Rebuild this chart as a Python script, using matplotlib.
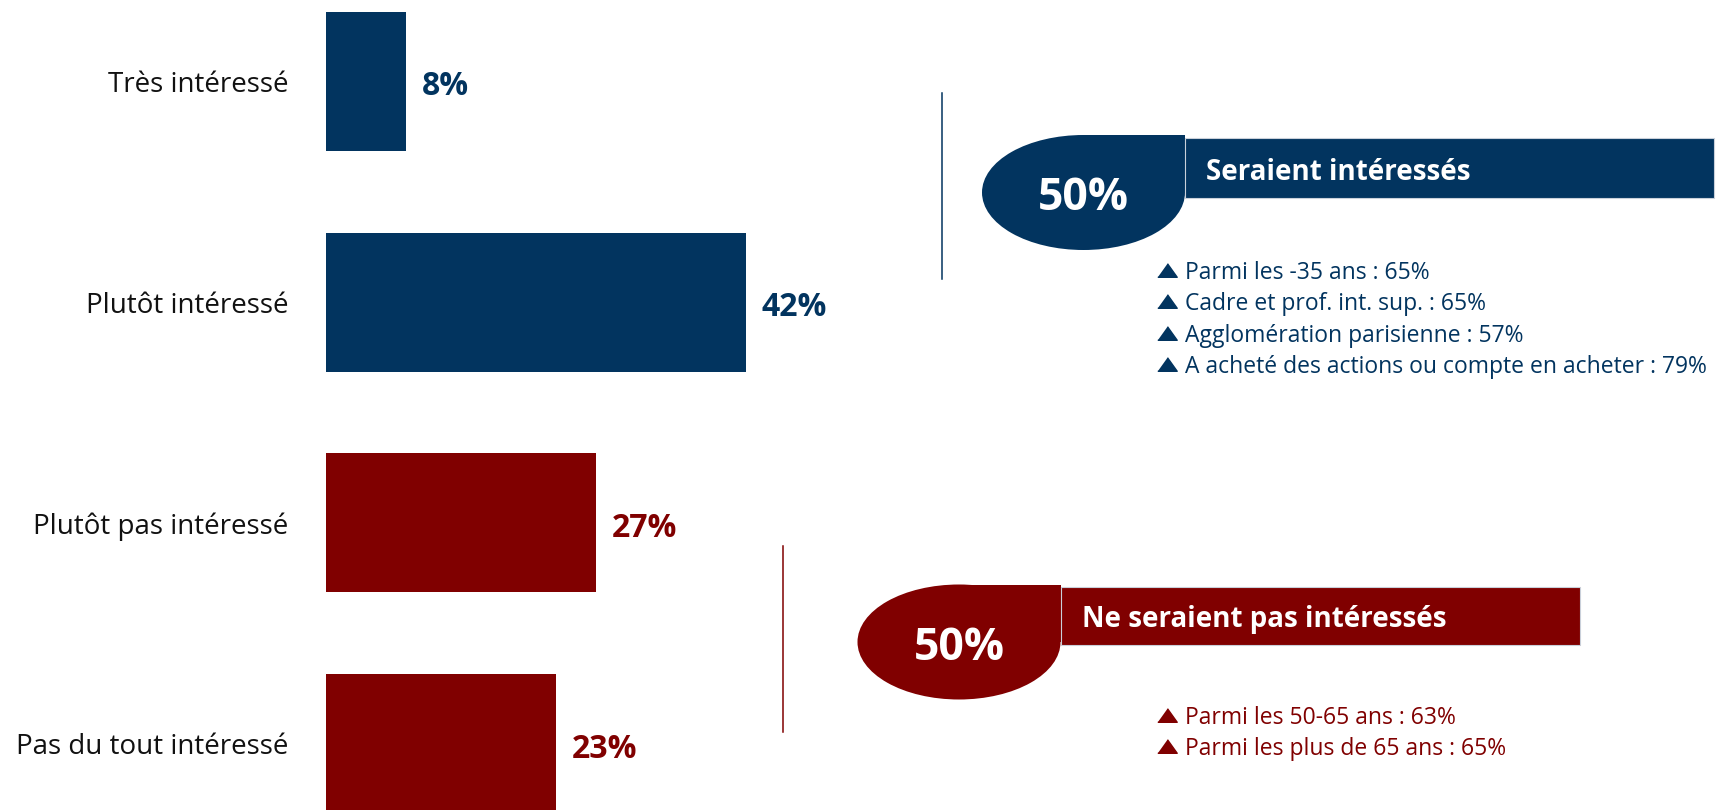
import matplotlib
matplotlib.use("Agg")
import matplotlib.pyplot as plt
from matplotlib.patches import Ellipse, Rectangle

# data
categories = ["Très intéressé", "Plutôt intéressé", "Plutôt pas intéressé", "Pas du tout intéressé"]
values = [8, 42, 27, 23]
bar_groups = [0, 0, 1, 1]  # 0 = interested, 1 = not interested

group_titles = ["Seraient intéressés", "Ne seraient pas intéressés"]
group_bullets = [
    ["Parmi les -35 ans : 65%",
     "Cadre et prof. int. sup. : 65%",
     "Agglomération parisienne : 57%",
     "A acheté des actions ou compte en acheter : 79%"],
    ["Parmi les 50-65 ans : 63%",
     "Parmi les plus de 65 ans : 65%"],
]

BLUE = "#02345f"
RED = "#800000"
group_colors = [BLUE, RED]

plt.rcParams['font.family'] = ['Open Sans', 'DejaVu Sans']

W, H = 1722, 810
fig = plt.figure(figsize=(W / 100, H / 100), dpi=100)

# ---- bar chart (left part) ----
ax = fig.add_axes([326 / W, 0, 999 / W, 1])
ypos = list(range(len(categories)))
colors = [group_colors[g] for g in bar_groups]
ax.barh(ypos, values, height=0.63, color=colors, edgecolor="none")
ax.set_xlim(0, 100)
ax.set_ylim(3.301, -0.369)
ax.set_yticks(ypos, categories)
ax.tick_params(axis="y", length=0, pad=27, labelsize=20, labelcolor="#111111")
ax.set_xticks([])
for s in ax.spines.values():
    s.set_visible(False)

for y, v, c in zip(ypos, values, colors):
    ax.text(v + 1.6, y + 0.025, f"{v}%", va="center", ha="left",
            fontsize=23, fontweight="bold", color=c)

# ---- summary blocks (right part), drawn in pixel coordinates ----
ov = fig.add_axes([0, 0, 1, 1], facecolor="none")
ov.set_xlim(0, W)
ov.set_ylim(H, 0)
ov.axis("off")

# layout of each block: vertical rule, bubble, banner, bullets
blocks = [
    dict(rule_x=942, rule_y=(93, 279), cx=1083.5, cy=192.5, banner=(1185, 1714, 138, 198),
         bullet_y0=273),
    dict(rule_x=783, rule_y=(546, 732), cx=959, cy=642, banner=(1061, 1580, 587, 645),
         bullet_y0=718),
]

for g, b in enumerate(blocks):
    col = group_colors[g]
    total = sum(v for v, gg in zip(values, bar_groups) if gg == g)

    ov.plot([b["rule_x"], b["rule_x"]], b["rule_y"], color=col, lw=1.1)

    # bubble: ellipse with a square top-right corner
    ew, eh = 203, 115
    ov.add_patch(Ellipse((b["cx"], b["cy"]), ew, eh, color=col, lw=0))
    ov.add_patch(Rectangle((b["cx"], b["cy"] - eh / 2), ew / 2, eh / 2, color=col, lw=0))

    x0, x1, y0, y1 = b["banner"]
    ov.add_patch(Rectangle((x0, y0), x1 - x0, y1 - y0, facecolor=col,
                           edgecolor="#c9d0da", lw=0.8))

    ov.text(b["cx"], b["cy"] + 6, f"{total}%", ha="center", va="center",
            fontsize=32, fontweight="bold", color="white")
    ov.text(x0 + 21, (y0 + y1) / 2 + 4, group_titles[g], ha="left", va="center",
            fontsize=20, fontweight="bold", color="white")

    for i, line in enumerate(group_bullets[g]):
        yy = b["bullet_y0"] + 31.3 * i
        ov.plot(1167, yy - 3, marker=[(-1, -0.7), (1, -0.7), (0, 0.7)],
                markersize=14, color=col, lw=0)
        ov.text(1185, yy, line, ha="left", va="center", fontsize=16.5, color=col)

fig.savefig("out.png", dpi=100)
